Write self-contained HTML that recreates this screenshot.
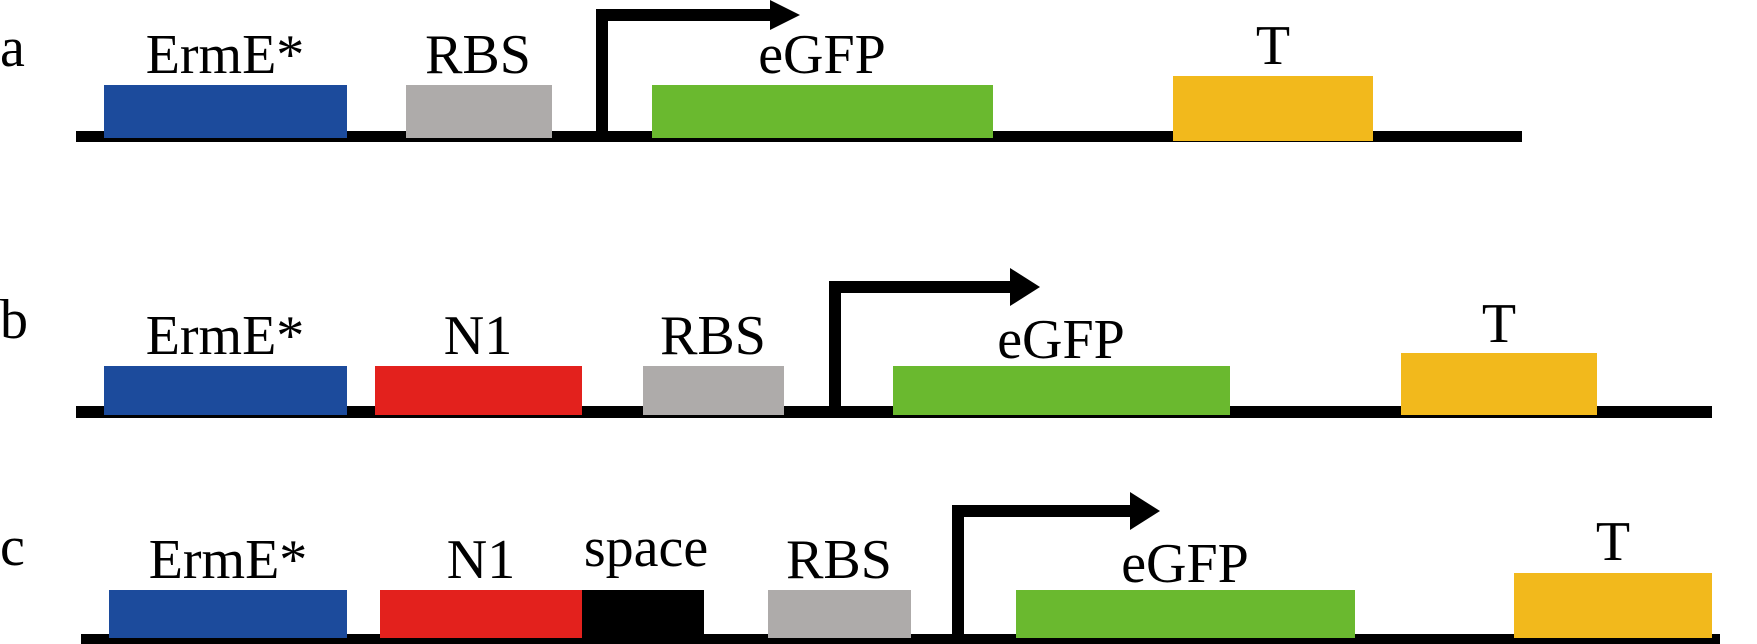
<!DOCTYPE html>
<html><head><meta charset="utf-8"><style>
html,body{margin:0;padding:0;background:#fff;}
svg{display:block;}
svg text{font-family:"Liberation Serif","Times New Roman",serif !important;font-size:56px;fill:#000;}
</style></head><body>
<svg width="1757" height="644" viewBox="0 0 1757 644" xmlns="http://www.w3.org/2000/svg" font-family="Liberation Serif, serif">
<g font-family="Liberation Serif, serif" font-size="56">
<!-- Row a -->
<text x="0" y="66" font-family="Liberation Serif, serif">a</text>
<rect x="76" y="131" width="1446" height="11" fill="#000"/>
<rect x="104" y="85" width="243" height="53" fill="#1c4b9c"/>
<text x="225" y="73" text-anchor="middle" font-family="Liberation Serif, serif">ErmE*</text>
<rect x="406" y="85" width="146" height="53" fill="#aeabaa"/>
<text x="478" y="73" text-anchor="middle" font-family="Liberation Serif, serif">RBS</text>
<rect x="596" y="12" width="12" height="125" fill="#000"/>
<rect x="596" y="9" width="178" height="12" fill="#000"/>
<polygon points="770,0 800,15 770,30" fill="#000"/>
<rect x="652" y="85" width="341" height="53" fill="#6ab92f"/>
<text x="822" y="73" text-anchor="middle" font-family="Liberation Serif, serif">eGFP</text>
<rect x="1173" y="76" width="200" height="65" fill="#f2b91c"/>
<text x="1273" y="64" text-anchor="middle" font-family="Liberation Serif, serif">T</text>

<!-- Row b -->
<text x="0" y="338" font-family="Liberation Serif, serif">b</text>
<rect x="76" y="406" width="1636" height="12" fill="#000"/>
<rect x="104" y="366" width="243" height="49" fill="#1c4b9c"/>
<text x="225" y="354" text-anchor="middle" font-family="Liberation Serif, serif">ErmE*</text>
<rect x="375" y="366" width="207" height="49" fill="#e3211d"/>
<text x="478" y="354" text-anchor="middle" font-family="Liberation Serif, serif">N1</text>
<rect x="643" y="366" width="141" height="49" fill="#aeabaa"/>
<text x="713" y="354" text-anchor="middle" font-family="Liberation Serif, serif">RBS</text>
<rect x="829" y="282" width="12" height="128" fill="#000"/>
<rect x="829" y="281" width="185" height="12" fill="#000"/>
<polygon points="1010,268 1040,287 1010,306" fill="#000"/>
<rect x="893" y="366" width="337" height="49" fill="#6ab92f"/>
<text x="1061" y="358" text-anchor="middle" font-family="Liberation Serif, serif">eGFP</text>
<rect x="1401" y="353" width="196" height="62" fill="#f2b91c"/>
<text x="1499" y="342" text-anchor="middle" font-family="Liberation Serif, serif">T</text>

<!-- Row c -->
<text x="0" y="565" font-family="Liberation Serif, serif">c</text>
<rect x="81" y="634" width="1639" height="10" fill="#000"/>
<rect x="109" y="590" width="238" height="48" fill="#1c4b9c"/>
<text x="228" y="578" text-anchor="middle" font-family="Liberation Serif, serif">ErmE*</text>
<rect x="380" y="590" width="202" height="48" fill="#e3211d"/>
<text x="481" y="578" text-anchor="middle" font-family="Liberation Serif, serif">N1</text>
<rect x="582" y="590" width="122" height="48" fill="#000"/>
<text x="646" y="566" text-anchor="middle" font-family="Liberation Serif, serif">space</text>
<rect x="768" y="590" width="143" height="48" fill="#aeabaa"/>
<text x="839" y="578" text-anchor="middle" font-family="Liberation Serif, serif">RBS</text>
<rect x="952" y="506" width="12" height="134" fill="#000"/>
<rect x="952" y="505" width="182" height="12" fill="#000"/>
<polygon points="1130,492 1160,511 1130,530" fill="#000"/>
<rect x="1016" y="590" width="339" height="48" fill="#6ab92f"/>
<text x="1185" y="582" text-anchor="middle" font-family="Liberation Serif, serif">eGFP</text>
<rect x="1514" y="573" width="198" height="65" fill="#f2b91c"/>
<text x="1613" y="560" text-anchor="middle" font-family="Liberation Serif, serif">T</text>
</g>
</svg>
</body></html>
